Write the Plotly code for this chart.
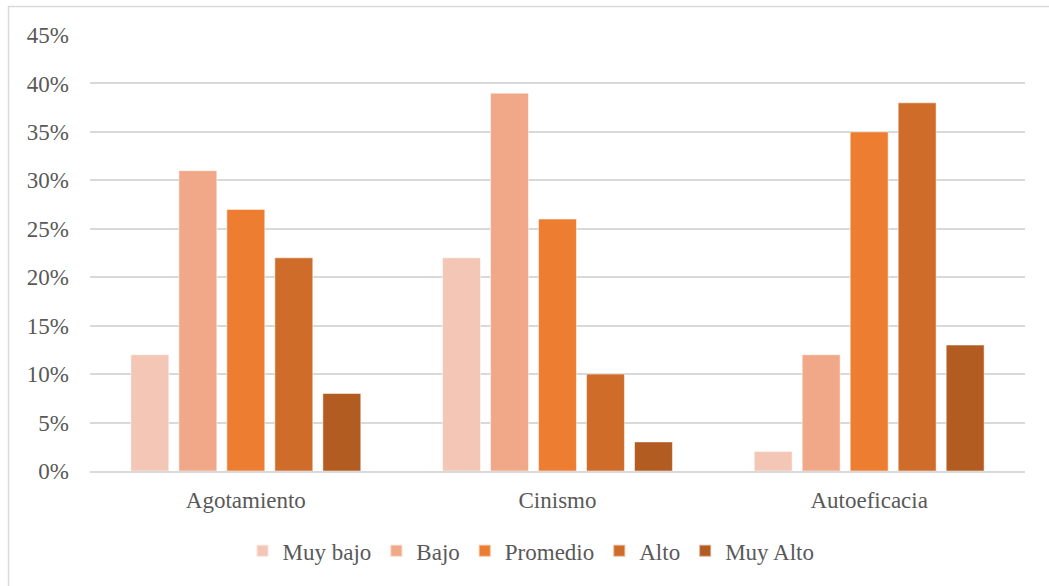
import plotly.graph_objects as go

categories = ["Agotamiento", "Cinismo", "Autoeficacia"]
series_names = ["Muy bajo", "Bajo", "Promedio", "Alto", "Muy Alto"]
muy_bajo = [12, 22, 2]
bajo = [31, 39, 12]
promedio = [27, 26, 35]
alto = [22, 10, 38]
muy_alto = [8, 3, 13]
values = [muy_bajo, bajo, promedio, alto, muy_alto]
colors = ["#F4C6B6", "#F0A888", "#ED7D31", "#D06C29", "#B25C22"]
tick_vals = [0, 5, 10, 15, 20, 25, 30, 35, 40, 45]
tick_text = [f"{v}%" for v in tick_vals]

FONT = "Liberation Serif"
fig = go.Figure()
for name, vals, col in zip(series_names, values, colors):
    fig.add_trace(go.Bar(
        name=name, x=categories, y=vals,
        marker=dict(color=col, line=dict(color="rgba(255,255,255,0.5)", width=1)),
    ))

fig.update_layout(
    width=1049, height=586,
    barmode="group", bargap=0.23, bargroupgap=0.21,
    paper_bgcolor="white", plot_bgcolor="white",
    margin=dict(l=90, r=24, t=35, b=115),
    font=dict(family=FONT, size=23, color="#595959"),
    showlegend=True,
    legend=dict(orientation="h", x=0.4717, xanchor="center", y=-0.183, yanchor="middle",
                font=dict(family=FONT, size=23, color="#595959"),
                itemwidth=30, tracegroupgap=0, itemsizing="constant"),
    xaxis=dict(showgrid=False, showline=True, linecolor="#D9D9D9", linewidth=1.5,
               ticks="", ticklabelstandoff=8,
               tickfont=dict(family=FONT, size=23, color="#595959")),
    yaxis=dict(range=[0, 45], tickvals=tick_vals, ticktext=tick_text,
               showgrid=True, gridcolor="#D9D9D9", gridwidth=1.5,
               zeroline=False, showline=False, ticks="",
               ticklabelstandoff=20,
               tickfont=dict(family=FONT, size=23, color="#595959")),
    shapes=[dict(type="rect", xref="paper", yref="paper",
                 x0=(8.5 - 90) / 935, x1=(1080 - 90) / 935,
                 y0=(471 - 620) / 436, y1=(471 - 6.5) / 436,
                 line=dict(color="#D9D9D9", width=1.5), fillcolor="rgba(0,0,0,0)",
                 layer="below")],
)

fig.write_html("out.html")
